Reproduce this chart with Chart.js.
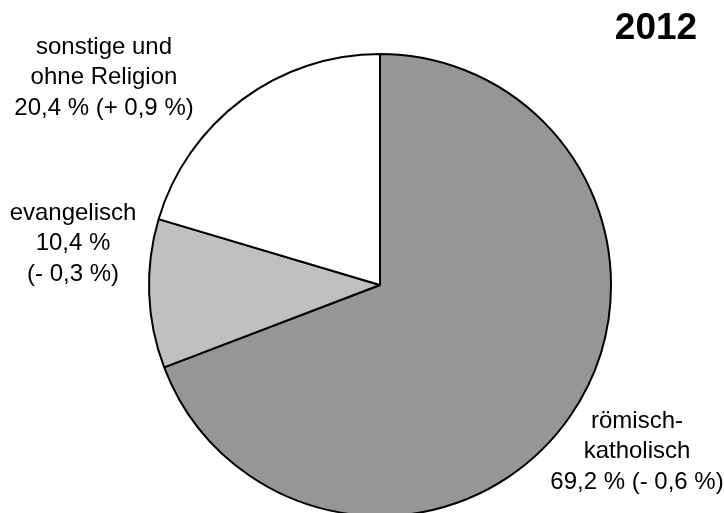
<!DOCTYPE html>
<html>
<head>
<meta charset="utf-8">
<script src="https://cdn.jsdelivr.net/npm/chart.js@4"></script>
<style>
  html, body { margin: 0; padding: 0; background: #fff; overflow: hidden; }
  #wrap { width: 724px; height: 530px; position: relative; }
</style>
</head>
<body>
<div id="wrap"><canvas id="pie"></canvas></div>
<script>
const year = '2012';
const categories = ['römisch-katholisch', 'evangelisch', 'sonstige und ohne Religion'];
const shares = [69.2, 10.4, 20.4];
const labelLines = [
  ['römisch-', 'katholisch', '69,2 % (- 0,6 %)'],
  ['evangelisch', '10,4 %', '(- 0,3 %)'],
  ['sonstige und', 'ohne Religion', '20,4 % (+ 0,9 %)'],
];
const sliceColors = ['#969696', '#c0c0c0', '#ffffff'];

// where each label block sits (centre x, first line middle y)
const labelPos = [
  { x: 637, y: 421 },
  { x: 73, y: 213 },
  { x: 104, y: 47 },
];

const textPlugin = {
  id: 'pieText',
  afterDraw(chart) {
    const ctx = chart.ctx;
    ctx.save();
    ctx.fillStyle = '#000';
    ctx.textAlign = 'center';
    ctx.textBaseline = 'middle';
    ctx.font = '24px "Liberation Sans", Arial, sans-serif';
    labelLines.forEach((lines, i) => {
      lines.forEach((line, j) => {
        ctx.fillText(line, labelPos[i].x, labelPos[i].y + j * 30.5);
      });
    });
    ctx.font = 'bold 37px "Liberation Sans", Arial, sans-serif';
    ctx.fillText(year, 656, 29);
    ctx.restore();
  }
};

new Chart(document.getElementById('pie'), {
  type: 'pie',
  data: {
    labels: categories,
    datasets: [{
      data: shares,
      backgroundColor: sliceColors,
      borderColor: '#000',
      borderWidth: 2,
      borderAlign: 'center',
    }],
  },
  options: {
    responsive: true,
    maintainAspectRatio: false,
    animation: false,
    layout: { padding: { left: 148, right: 112, top: 53, bottom: 13 } },
    plugins: {
      legend: { display: false },
      tooltip: { enabled: false },
    },
  },
  plugins: [textPlugin],
});
</script>
</body>
</html>
